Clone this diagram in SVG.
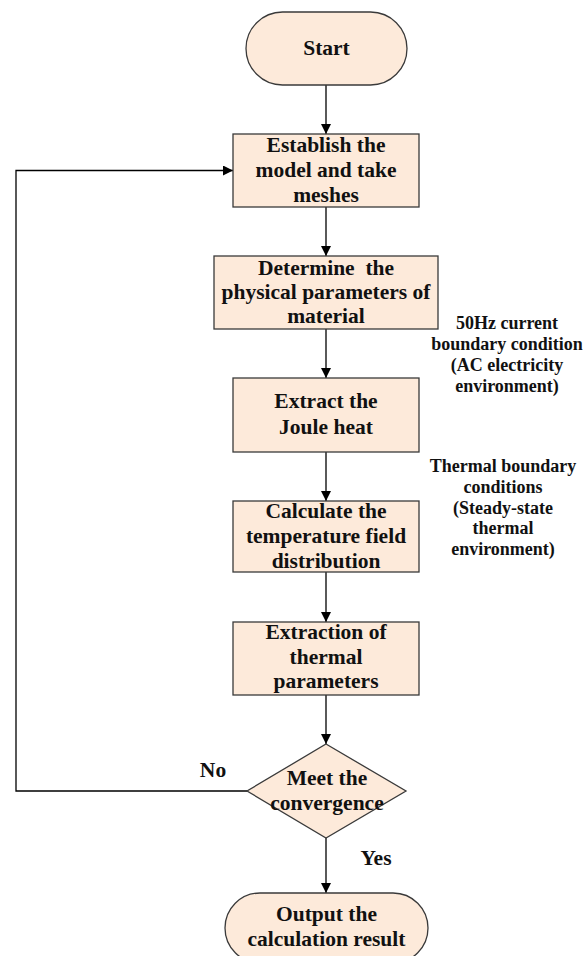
<svg xmlns="http://www.w3.org/2000/svg" width="585" height="956" viewBox="0 0 585 956">
<style>
.n{fill:#FDEADA;stroke:#3a3a3a;stroke-width:1.3}
.t{font-family:"Liberation Serif","Times New Roman",serif;font-weight:bold;font-size:21.5px;fill:#111;text-anchor:middle}
.s{font-family:"Liberation Serif","Times New Roman",serif;font-weight:bold;font-size:18px;fill:#111;text-anchor:middle}
.c{fill:none;stroke:#000;stroke-width:1.3}
</style>
<defs>
<marker id="ah" viewBox="0 0 10 10" refX="10" refY="5" markerWidth="10" markerHeight="10" markerUnits="userSpaceOnUse" orient="auto">
<path d="M0,0 L10,5 L0,10 z" fill="#000"/>
</marker>
</defs>
<rect width="585" height="956" fill="#fff"/>
<g id="connectors">
<path class="c" d="M326,85 V134" marker-end="url(#ah)"/>
<path class="c" d="M326,207 V256" marker-end="url(#ah)"/>
<path class="c" d="M326,329 V378" marker-end="url(#ah)"/>
<path class="c" d="M326,452 V501" marker-end="url(#ah)"/>
<path class="c" d="M326,572 V622" marker-end="url(#ah)"/>
<path class="c" d="M326,695 V744" marker-end="url(#ah)"/>
<path class="c" d="M326,838 V893" marker-end="url(#ah)"/>
<path class="c" d="M247,791 H16 V170.5 H233" marker-end="url(#ah)"/>
<text class="t" x="213" y="777">No</text>
<text class="t" x="376" y="865">Yes</text>
</g>
<g id="start">
<rect class="n" x="246" y="12" width="161" height="73" rx="36.5" ry="36.5"/>
<text class="t" x="326.5" y="55">Start</text>
</g>
<g id="model">
<rect class="n" x="233" y="134" width="186" height="73"/>
<text class="t" x="326" y="152">Establish the</text>
<text class="t" x="326" y="177">model and take</text>
<text class="t" x="326" y="202">meshes</text>
</g>
<g id="params">
<rect class="n" x="214" y="256" width="224" height="73"/>
<text class="t" x="326" y="275" xml:space="preserve">Determine  the</text>
<text class="t" x="326" y="299">physical parameters of</text>
<text class="t" x="326" y="323">material</text>
</g>
<g id="joule">
<rect class="n" x="233" y="378" width="186" height="74"/>
<text class="t" x="326" y="408">Extract the</text>
<text class="t" x="326" y="434">Joule heat</text>
</g>
<g id="temp">
<rect class="n" x="233" y="501" width="186" height="71"/>
<text class="t" x="326" y="518">Calculate the</text>
<text class="t" x="326" y="543">temperature field</text>
<text class="t" x="326" y="568">distribution</text>
</g>
<g id="thermal">
<rect class="n" x="233" y="622" width="186" height="73"/>
<text class="t" x="326" y="639">Extraction of</text>
<text class="t" x="326" y="664">thermal</text>
<text class="t" x="326" y="688">parameters</text>
</g>
<g id="converge">
<polygon class="n" points="326,744 406,791 326,838 247,791"/>
<text class="t" x="327" y="785">Meet the</text>
<text class="t" x="327" y="810">convergence</text>
</g>
<g id="output">
<rect class="n" x="225" y="893" width="203" height="70" rx="35" ry="35"/>
<text class="t" x="326.5" y="921">Output the</text>
<text class="t" x="326.5" y="946">calculation result</text>
</g>
<g id="note-ac">
<text class="s" x="507" y="329">50Hz current</text>
<text class="s" x="507" y="350">boundary condition</text>
<text class="s" x="507" y="371">(AC electricity</text>
<text class="s" x="507" y="392">environment)</text>
</g>
<g id="note-thermal">
<text class="s" x="503" y="472">Thermal boundary</text>
<text class="s" x="503" y="493">conditions</text>
<text class="s" x="503" y="514">(Steady-state</text>
<text class="s" x="503" y="534">thermal</text>
<text class="s" x="503" y="555">environment)</text>
</g>
</svg>
